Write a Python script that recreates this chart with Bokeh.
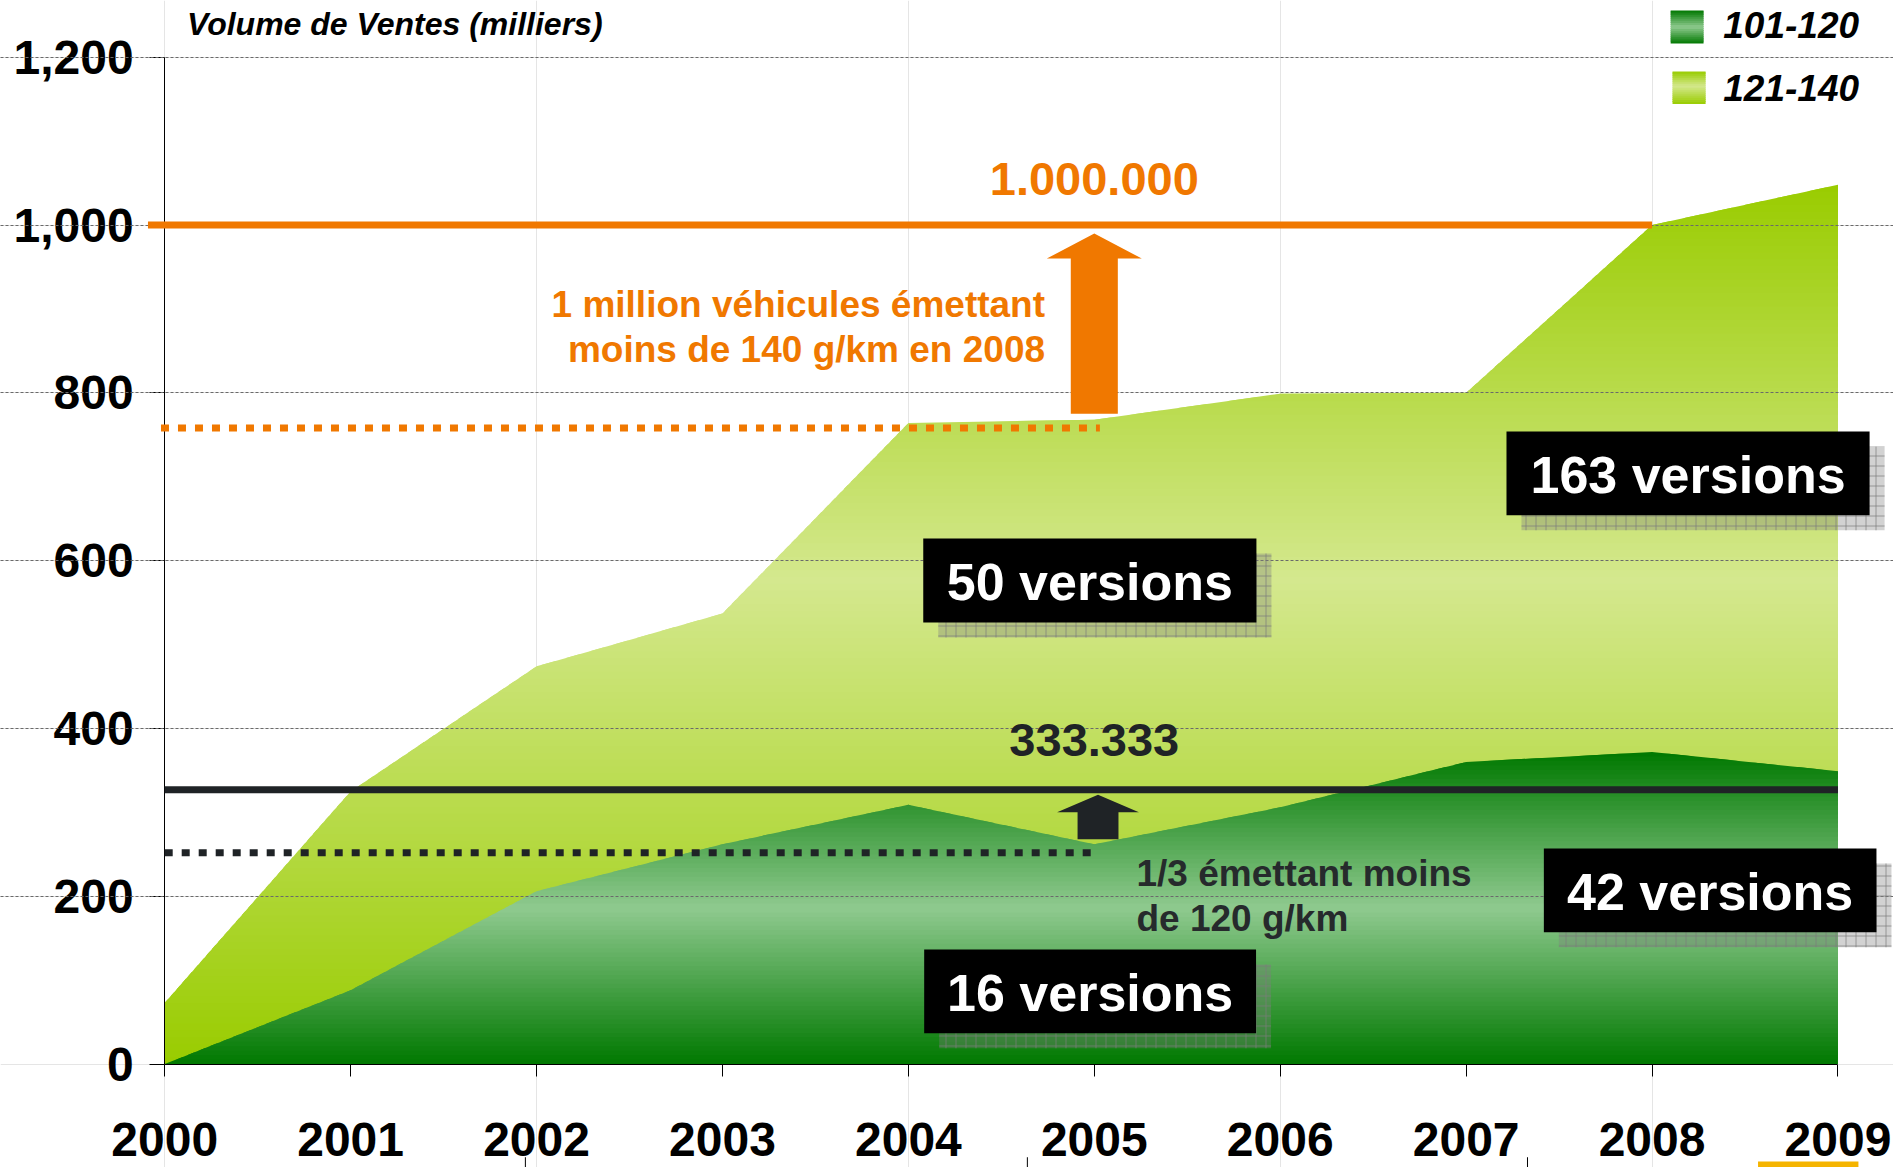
import numpy as np
from bokeh.plotting import figure
from bokeh.models import Range1d, FixedTicker, LinearAxis, Grid
from bokeh.embed import file_html
from bokeh.resources import INLINE
from bokeh.core.properties import value

# ---------------- data ----------------
years = [2000, 2001, 2002, 2003, 2004, 2005, 2006, 2007, 2008, 2009]
vol_101_120 = [0, 88, 206, 262, 309, 262, 306, 360, 372, 349]
vol_121_140 = [73, 237, 268, 275, 455, 506, 493, 440, 628, 699]
series_names = ["101-120", "121-140"]
y_ticks = [0, 200, 400, 600, 800, 1000, 1200]
y_tick_labels = ["0", "200", "400", "600", "800", "1,000", "1,200"]
x_tick_labels = ["2000", "2001", "2002", "2003", "2004", "2005", "2006", "2007", "2008", "2009"]
version_labels = ["16 versions", "50 versions", "42 versions", "163 versions"]
target_total = 1000      # 1.000.000
target_low = 327         # 333.333
level_total_2005 = 758
level_low_2005 = 252
title = "Volume de Ventes (milliers)"

total = [a + b for a, b in zip(vol_101_120, vol_121_140)]

# ---------------- geometry ----------------
W, H = 1893, 1167
PX_YEAR = 185.92
PX_UNIT = 0.8391
X0 = 164.2     # canvas x of year 2000
Y0 = 1063.6    # canvas y of value 0
x_start = 2000 - X0 / PX_YEAR
x_end = x_start + W / PX_YEAR
y_start = -(H - Y0) / PX_UNIT
y_end = Y0 / PX_UNIT

p = figure(width=W, height=H, x_range=Range1d(x_start, x_end), y_range=Range1d(y_start, y_end),
           output_backend="svg", toolbar_location=None, x_axis_location=None, y_axis_location=None,
           min_border=0, outline_line_color=None)
p.background_fill_color = "white"
p.border_fill_color = "white"

FONT = value("Liberation Sans")


def up(font_px):
    # baseline correction for text glyphs (data units)
    return 0.33 * font_px / PX_UNIT


def lerp(stops, t):
    t = min(max(t, 0.0), 1.0)
    for (t0, c0), (t1, c1) in zip(stops[:-1], stops[1:]):
        if t <= t1:
            f = (t - t0) / (t1 - t0) if t1 > t0 else 0.0
            return "#%02x%02x%02x" % tuple(int(round(c0[k] + (c1[k] - c0[k]) * f)) for k in range(3))
    c = stops[-1][1]
    return "#%02x%02x%02x" % c


def area_bands(xs, lo, hi, stops, n):
    xs = np.asarray(xs, float)
    lo = np.asarray(lo, float)
    hi = np.asarray(hi, float)
    ymin, ymax = lo.min(), hi.max()
    step = (ymax - ymin) / n
    out_x, out_y, cols = [], [], []
    for i in range(n):
        a = ymin + i * step
        b = min(ymax, a + step * 1.6)
        pts = list(xs)
        for f in (lo, hi):
            for lev in (a, b):
                d = f - lev
                for j in range(len(xs) - 1):
                    if d[j] * d[j + 1] < 0:
                        pts.append(xs[j] + (xs[j + 1] - xs[j]) * d[j] / (d[j] - d[j + 1]))
        xd = np.unique(pts)
        l = np.clip(np.interp(xd, xs, lo), a, b)
        h = np.clip(np.interp(xd, xs, hi), a, b)
        if np.all(h - l <= 1e-9):
            continue
        out_x.append(list(xd) + list(xd[::-1]))
        out_y.append(list(h) + list(l[::-1]))
        cols.append(lerp(stops, (a + step / 2 - ymin) / (ymax - ymin)))
    return out_x, out_y, cols


green_stops = [(0.0, (0, 120, 0)), (0.5, (143, 202, 143)), (1.0, (0, 120, 0))]
light_stops = [(0.0, (153, 204, 0)), (0.55, (212, 232, 142)), (1.0, (153, 204, 0))]

zeros = [0] * len(years)
lx, ly, lc = area_bands(years, zeros, total, light_stops, 130)
p.patches(xs=lx, ys=ly, fill_color=lc, line_color=None)
gx, gy, gc = area_bands(years, zeros, vol_101_120, green_stops, 70)
p.patches(xs=gx, ys=gy, fill_color=gc, line_color=None)

# ---------------- grid & axes ----------------
grid = Grid(dimension=1, ticker=FixedTicker(ticks=y_ticks[1:]), bounds=(2000, 2009),
            grid_line_color="#6a6a6a", grid_line_dash="3 2", grid_line_width=1, level="guide")
p.add_layout(grid)

xaxis = LinearAxis(fixed_location=0, bounds=(2000, 2009), ticker=FixedTicker(ticks=years),
                   major_label_overrides={y: s for y, s in zip(years, x_tick_labels)})
yaxis = LinearAxis(fixed_location=2000, bounds=(0, 1200), ticker=FixedTicker(ticks=y_ticks),
                   major_label_overrides={v: s for v, s in zip(y_ticks, y_tick_labels)})
for ax in (xaxis, yaxis):
    ax.axis_line_color = "black"
    ax.axis_line_width = 1
    ax.major_tick_line_color = "black"
    ax.minor_tick_line_color = None
    ax.major_tick_in = 0
    ax.major_label_text_font = "Liberation Sans"
    ax.major_label_text_font_style = "bold"
    ax.major_label_text_font_size = "48px"
    ax.major_label_text_color = "black"
xaxis.major_tick_out = 12
xaxis.major_label_standoff = 47
yaxis.major_tick_out = 15
yaxis.major_label_standoff = 16
p.add_layout(xaxis, "below")
p.add_layout(yaxis, "left")

# small marks along the bottom edge
bx = [2001.94, 2004.64, 2007.33]
p.segment(x0=bx, x1=bx, y0=[-111] * 3, y1=[-124] * 3, line_color="black", line_width=1)
p.quad(left=[2008.57], right=[2009.11], bottom=[-116], top=[-124], fill_color="#f5b400", line_color=None)

# ---------------- reference lines ----------------
ORANGE = "#f07800"
DARK = "#1f2326"
p.line([1999.91, 2008], [target_total, target_total], line_color=ORANGE, line_width=7, level="annotation")
p.line([2000, 2009], [target_low, target_low], line_color=DARK, line_width=7, level="annotation")
p.line([1999.98, 2005.03], [level_total_2005, level_total_2005], line_color=ORANGE, line_width=7,
       line_dash="8 9", level="annotation")
p.line([2000, 2005], [level_low_2005, level_low_2005], line_color=DARK, line_width=7,
       line_dash="8 9", level="annotation")


def arrow(xc, y_bot, y_head, y_tip, shaft_w, head_w):
    xs = [xc - shaft_w / 2, xc - shaft_w / 2, xc - head_w / 2, xc, xc + head_w / 2, xc + shaft_w / 2, xc + shaft_w / 2]
    ys = [y_bot, y_head, y_head, y_tip, y_head, y_head, y_bot]
    return xs, ys


ax1, ay1 = arrow(2005.0, 775, 960, 990, 0.253, 0.511)
ax2, ay2 = arrow(2005.02, 268, 300, 321, 0.22, 0.44)
p.patches(xs=[ax1, ax2], ys=[ay1, ay2], fill_color=[ORANGE, DARK], line_color=None, level="annotation")

# ---------------- version boxes ----------------
boxes = [  # left, right, bottom, top
    (2004.085, 2005.870, 36.8, 136.6),
    (2004.080, 2005.872, 526.3, 626.4),
    (2007.418, 2009.207, 157.2, 257.0),
    (2007.217, 2009.170, 654.2, 753.9),
]
dx, dy = 15 / PX_YEAR, 15 / PX_UNIT
p.quad(left=[b[0] + dx for b in boxes], right=[b[1] + dx for b in boxes],
       bottom=[b[2] - dy for b in boxes], top=[b[3] - dy for b in boxes],
       fill_color="#7f7f7f", fill_alpha=0.35, hatch_pattern="+", hatch_color="#7a7a7a",
       hatch_alpha=0.7, hatch_scale=10, hatch_weight=1, line_color=None, level="annotation")
p.quad(left=[b[0] for b in boxes], right=[b[1] for b in boxes],
       bottom=[b[2] for b in boxes], top=[b[3] for b in boxes],
       fill_color="black", line_color=None, level="annotation")
p.text(x=[(b[0] + b[1]) / 2 for b in boxes], y=[(b[2] + b[3]) / 2 - 22.2 + up(52) for b in boxes],
       text=version_labels, text_font=FONT, text_font_style="bold", text_font_size="52px",
       text_color="white", text_align="center", text_baseline="alphabetic", level="overlay")

# ---------------- annotations ----------------
p.text(x=[2005.0], y=[1036 + up(47)], text=["1.000.000"], text_font=FONT, text_font_style="bold",
       text_font_size="47px", text_color=ORANGE, text_align="center", text_baseline="alphabetic", level="overlay")
p.text(x=[2005.0], y=[368.3 + up(47)], text=["333.333"], text_font=FONT, text_font_style="bold",
       text_font_size="47px", text_color=DARK, text_align="center", text_baseline="alphabetic", level="overlay")
p.text(x=[2004.735, 2004.735], y=[891.3 + up(37), 836.5 + up(37)],
       text=["1 million véhicules émettant", "moins de 140 g/km en 2008"], text_font=FONT,
       text_font_style="bold", text_font_size="37px", text_color=ORANGE, text_align="right",
       text_baseline="alphabetic", level="overlay")
p.text(x=[2005.227, 2005.227], y=[212.8 + up(37), 159.2 + up(37)],
       text=["1/3 émettant moins", "de 120 g/km"], text_font=FONT,
       text_font_style="bold", text_font_size="37px", text_color="#262a2c", text_align="left",
       text_baseline="alphabetic", level="overlay")
p.text(x=[2000.12], y=[1226.7 + up(32)], text=[title], text_font=FONT, text_font_style="bold italic",
       text_font_size="32px", text_color="black", text_align="left", text_baseline="alphabetic", level="overlay")

# ---------------- legend ----------------
swatches = [(2008.100, 2008.277, 1216.3, 1255.6), (2008.110, 2008.288, 1144.3, 1182.8)]
for (l, r, b, t), stops in zip(swatches, [green_stops, light_stops]):
    n = 16
    hgt = (t - b) / n
    p.quad(left=[l] * n, right=[r] * n, bottom=[b + i * hgt for i in range(n)],
           top=[min(t, b + (i + 1.5) * hgt) for i in range(n)],
           fill_color=[lerp(stops, (i + 0.5) / n) for i in range(n)], line_color=None, level="annotation")
p.text(x=[2008.383, 2008.383], y=[1223.8 + up(37), 1148.3 + up(37)], text=series_names, text_font=FONT,
       text_font_style="bold italic", text_font_size="37px", text_color="black", text_align="left",
       text_baseline="alphabetic", level="overlay")

open("out.html", "w").write(file_html(p, INLINE))
